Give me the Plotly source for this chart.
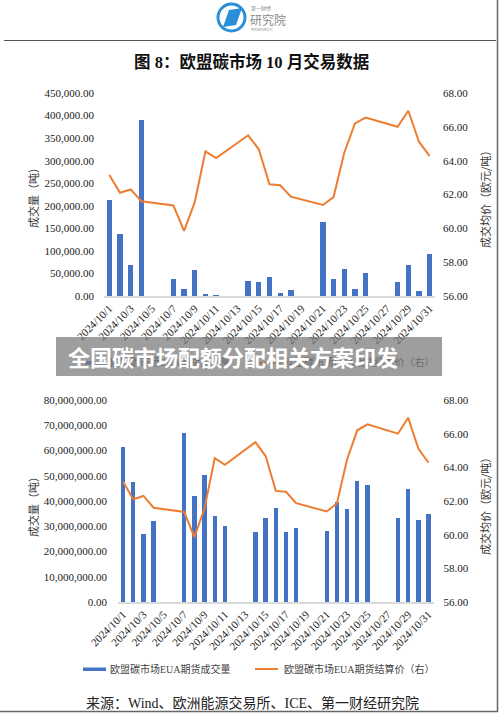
import plotly.graph_objects as go

W, H = 500, 713

# ---------------- data ----------------
trade_dates = ["2024-10-01", "2024-10-02", "2024-10-03", "2024-10-04",
               "2024-10-07", "2024-10-08", "2024-10-09", "2024-10-10", "2024-10-11",
               "2024-10-14", "2024-10-15", "2024-10-16", "2024-10-17", "2024-10-18",
               "2024-10-21", "2024-10-22", "2024-10-23", "2024-10-24", "2024-10-25",
               "2024-10-28", "2024-10-29", "2024-10-30", "2024-10-31"]

# chart 1 volume (tonnes)
volume_top = [213000, 137000, 69600, 390000,
              37700, 14800, 57700, 3700, 1500,
              32600, 31000, 41400, 7400, 13300,
              165000, 37700, 59200, 14800, 51800,
              31000, 68800, 10400, 93200]

# chart 2 volume (tonnes)
volume_bottom = [61.3e6, 47.7e6, 26.8e6, 31.9e6,
                 67.0e6, 41.9e6, 50.2e6, 34.1e6, 30.0e6,
                 27.7e6, 33.2e6, 37.3e6, 27.9e6, 29.3e6,
                 28.1e6, 39.5e6, 36.9e6, 48.0e6, 46.3e6,
                 33.1e6, 44.7e6, 32.6e6, 34.8e6]

# EUA futures settlement price (EUR/t)
price = [63.15, 62.10, 62.30, 61.60,
         61.35, 59.85, 61.55, 64.55, 64.15,
         65.50, 64.67, 62.60, 62.55, 61.87,
         61.38, 61.85, 64.47, 66.20, 66.55,
         66.00, 66.95, 65.12, 64.27]

tick_dates = ["2024-10-01", "2024-10-03", "2024-10-05", "2024-10-07", "2024-10-09",
              "2024-10-11", "2024-10-13", "2024-10-15", "2024-10-17", "2024-10-19",
              "2024-10-21", "2024-10-23", "2024-10-25", "2024-10-27", "2024-10-29",
              "2024-10-31"]
tick_labels = ["2024/10/1", "2024/10/3", "2024/10/5", "2024/10/7", "2024/10/9",
               "2024/10/11", "2024/10/13", "2024/10/15", "2024/10/17", "2024/10/19",
               "2024/10/21", "2024/10/23", "2024/10/25", "2024/10/27", "2024/10/29",
               "2024/10/31"]

top_left_ticks = [0, 50000, 100000, 150000, 200000, 250000, 300000, 350000, 400000, 450000]
bottom_left_ticks = [0, 1e7, 2e7, 3e7, 4e7, 5e7, 6e7, 7e7, 8e7]
right_ticks = [56, 58, 60, 62, 64, 66, 68]

title_text = "图 8：欧盟碳市场 10 月交易数据"
banner_text = "全国碳市场配额分配相关方案印发"
legend_bar = "欧盟碳市场EUA期货成交量"
legend_line = "欧盟碳市场EUA期货结算价（右）"
ytitle_left = "成交量（吨）"
ytitle_right = "成交均价（欧元/吨）"
source_text = "来源：Wind、欧洲能源交易所、ICE、第一财经研究院"

# ---------------- styles ----------------
BLUE = "#4472C4"
ORANGE = "#ED7D31"
SERIF = "Liberation Serif, Noto Sans CJK SC"
CJK = "Noto Sans CJK SC"
TXT = "#1a1a1a"


def fx(x):
    return x / W


def fy(y):
    return 1 - y / H


DAY_MS = 86400000

fig = go.Figure()

# chart 1
fig.add_trace(go.Bar(x=trade_dates, y=volume_top, width=0.5 * DAY_MS,
                     marker=dict(color=BLUE, line=dict(width=0)),
                     xaxis="x", yaxis="y", showlegend=False))
fig.add_trace(go.Scatter(x=trade_dates, y=price, mode="lines",
                         line=dict(color=ORANGE, width=2),
                         xaxis="x", yaxis="y2", showlegend=False))
# chart 2
fig.add_trace(go.Bar(x=trade_dates, y=volume_bottom, width=0.43 * DAY_MS,
                     marker=dict(color=BLUE, line=dict(width=0)),
                     xaxis="x2", yaxis="y3", showlegend=False))
fig.add_trace(go.Scatter(x=trade_dates, y=price, mode="lines",
                         line=dict(color=ORANGE, width=2),
                         xaxis="x2", yaxis="y4", showlegend=False))

# legend text of chart 1 (lies under the banner) drawn on a page-sized canvas axis
fig.add_trace(go.Scatter(x=[110, 284], y=[363, 363], mode="text",
                         text=[legend_bar, legend_line], textposition="middle right",
                         textfont=dict(family=SERIF, size=10, color="#444444"),
                         xaxis="x3", yaxis="y5", showlegend=False, hoverinfo="skip",
                         cliponaxis=False))

xrange = ["2024-09-30 12:00", "2024-10-31 12:00"]
xcommon = dict(type="date", range=xrange, tickvals=tick_dates, ticktext=tick_labels,
               tickangle=-45, showline=True, linecolor="#d9d9d9", linewidth=1.5,
               showgrid=False, zeroline=False, ticks="", fixedrange=True, automargin=False,
               tickfont=dict(family=SERIF, size=11, color=TXT))
ycommon = dict(showgrid=False, zeroline=False, showline=False, ticks="", fixedrange=True,
               automargin=False, tickfont=dict(family=SERIF, size=11, color=TXT))

fig.update_layout(
    width=W, height=H,
    margin=dict(l=0, r=0, t=0, b=0, pad=0, autoexpand=False),
    paper_bgcolor="white", plot_bgcolor="rgba(0,0,0,0)",
    hovermode=False, showlegend=False,
    bargap=0,
    xaxis=dict(domain=[fx(104), fx(435)], anchor="y", **xcommon),
    yaxis=dict(domain=[fy(296), fy(93)], anchor="x", range=[0, 450000],
               tickvals=top_left_ticks, tickformat=",.2f", ticklabelstandoff=9, **ycommon),
    yaxis2=dict(overlaying="y", side="right", anchor="x", range=[56, 68],
                tickvals=right_ticks, tickformat=".2f", ticklabelstandoff=7, **ycommon),
    xaxis2=dict(domain=[fx(118), fx(433.6)], anchor="y3", **xcommon),
    yaxis3=dict(domain=[fy(602), fy(400)], anchor="x2", range=[0, 8e7],
                tickvals=bottom_left_ticks, tickformat=",.2f", ticklabelstandoff=10, **ycommon),
    yaxis4=dict(overlaying="y3", side="right", anchor="x2", range=[56, 68],
                tickvals=right_ticks, tickformat=".2f", ticklabelstandoff=9, **ycommon),
    xaxis3=dict(domain=[0, 1], anchor="y5", range=[0, W], visible=False, fixedrange=True,
                automargin=False),
    yaxis5=dict(domain=[0, 1], anchor="x3", range=[H, 0], visible=False, fixedrange=True,
                automargin=False),
)

shapes = []
annotations = []

# logo
shapes.append(dict(type="circle", xref="paper", yref="paper",
                   x0=fx(218), x1=fx(245), y0=fy(31), y1=fy(4),
                   line=dict(color="#2b8fd6", width=3), layer="above"))
shapes.append(dict(type="path", xref="paper", yref="paper",
                   path=f"M {fx(223)},{fy(27)} L {fx(229)},{fy(10)} L {fx(242)},{fy(8)} L {fx(236)},{fy(25)} Z",
                   fillcolor="#2b8fd6", line=dict(width=0), layer="above"))
annotations.append(dict(text="第一财经", x=fx(249), y=fy(8), xref="paper", yref="paper",
                        xanchor="left", yanchor="middle", showarrow=False,
                        font=dict(family=CJK, size=5, color="#888888")))
annotations.append(dict(text="研究院", x=fx(248), y=fy(19.5), xref="paper", yref="paper",
                        xanchor="left", yanchor="middle", showarrow=False,
                        font=dict(family=CJK, size=12, color="#8a8a8a")))
annotations.append(dict(text="RESEARCH", x=fx(249), y=fy(29), xref="paper", yref="paper",
                        xanchor="left", yanchor="middle", showarrow=False,
                        font=dict(family="DejaVu Sans", size=4, color="#999999")))

# rule under logo and page frame
shapes.append(dict(type="line", xref="paper", yref="paper", x0=fx(4), x1=fx(496),
                   y0=fy(40.5), y1=fy(40.5), line=dict(color="#555555", width=1)))
shapes.append(dict(type="line", xref="paper", yref="paper", x0=fx(497.5), x1=fx(497.5),
                   y0=fy(0), y1=fy(712), line=dict(color="#666666", width=1.5)))
shapes.append(dict(type="line", xref="paper", yref="paper", x0=fx(0), x1=fx(498),
                   y0=fy(711.5), y1=fy(711.5), line=dict(color="#666666", width=1.5)))

# title
annotations.append(dict(text=f"<b>{title_text}</b>", x=fx(251), y=fy(62), xref="paper", yref="paper",
                        xanchor="center", yanchor="middle", showarrow=False,
                        font=dict(family=SERIF, size=16.5, color="#111111")))

# axis titles
for (x, y, txt) in [(33, 195, ytitle_left), (485, 197, ytitle_right),
                    (33, 504, ytitle_left), (485, 504, ytitle_right)]:
    annotations.append(dict(text=txt, x=fx(x), y=fy(y), xref="paper", yref="paper",
                            xanchor="center", yanchor="middle", showarrow=False, textangle=-90,
                            font=dict(family=CJK, size=11, color="#333333")))

# legend of chart 1 (symbols, under banner)
shapes.append(dict(type="rect", xref="paper", yref="paper", x0=fx(85), x1=fx(107),
                   y0=fy(364.5), y1=fy(361), fillcolor=BLUE, line=dict(width=0), layer="below"))
shapes.append(dict(type="line", xref="paper", yref="paper", x0=fx(259), x1=fx(281),
                   y0=fy(363), y1=fy(363), line=dict(color=ORANGE, width=2), layer="below"))

# legend of chart 2
shapes.append(dict(type="rect", xref="paper", yref="paper", x0=fx(83), x1=fx(106),
                   y0=fy(671), y1=fy(667.5), fillcolor=BLUE, line=dict(width=0)))
shapes.append(dict(type="line", xref="paper", yref="paper", x0=fx(255), x1=fx(278),
                   y0=fy(669), y1=fy(669), line=dict(color=ORANGE, width=2)))
annotations.append(dict(text=legend_bar, x=fx(108), y=fy(669), xref="paper", yref="paper",
                        xanchor="left", yanchor="middle", showarrow=False,
                        font=dict(family=SERIF, size=10, color="#444444")))
annotations.append(dict(text=legend_line, x=fx(282), y=fy(669), xref="paper", yref="paper",
                        xanchor="left", yanchor="middle", showarrow=False,
                        font=dict(family=SERIF, size=10, color="#444444")))

# source
annotations.append(dict(text=source_text, x=fx(84), y=fy(703), xref="paper", yref="paper",
                        xanchor="left", yanchor="middle", showarrow=False,
                        font=dict(family=SERIF, size=14, color="#222222")))

# banner
shapes.append(dict(type="rect", xref="paper", yref="paper", x0=fx(56), x1=fx(442),
                   y0=fy(376), y1=fy(337), fillcolor="rgba(120,120,120,0.72)",
                   line=dict(width=0), layer="above"))
annotations.append(dict(text=f"<b>{banner_text}</b>", x=fx(66), y=fy(356), xref="paper", yref="paper",
                        xanchor="left", yanchor="middle", showarrow=False,
                        font=dict(family=CJK, size=22, color="white")))

fig.update_layout(shapes=shapes, annotations=annotations)

fig.write_html("out.html", config={"displayModeBar": False},
               post_script="document.body.style.margin='0';document.body.style.overflow='hidden';")
